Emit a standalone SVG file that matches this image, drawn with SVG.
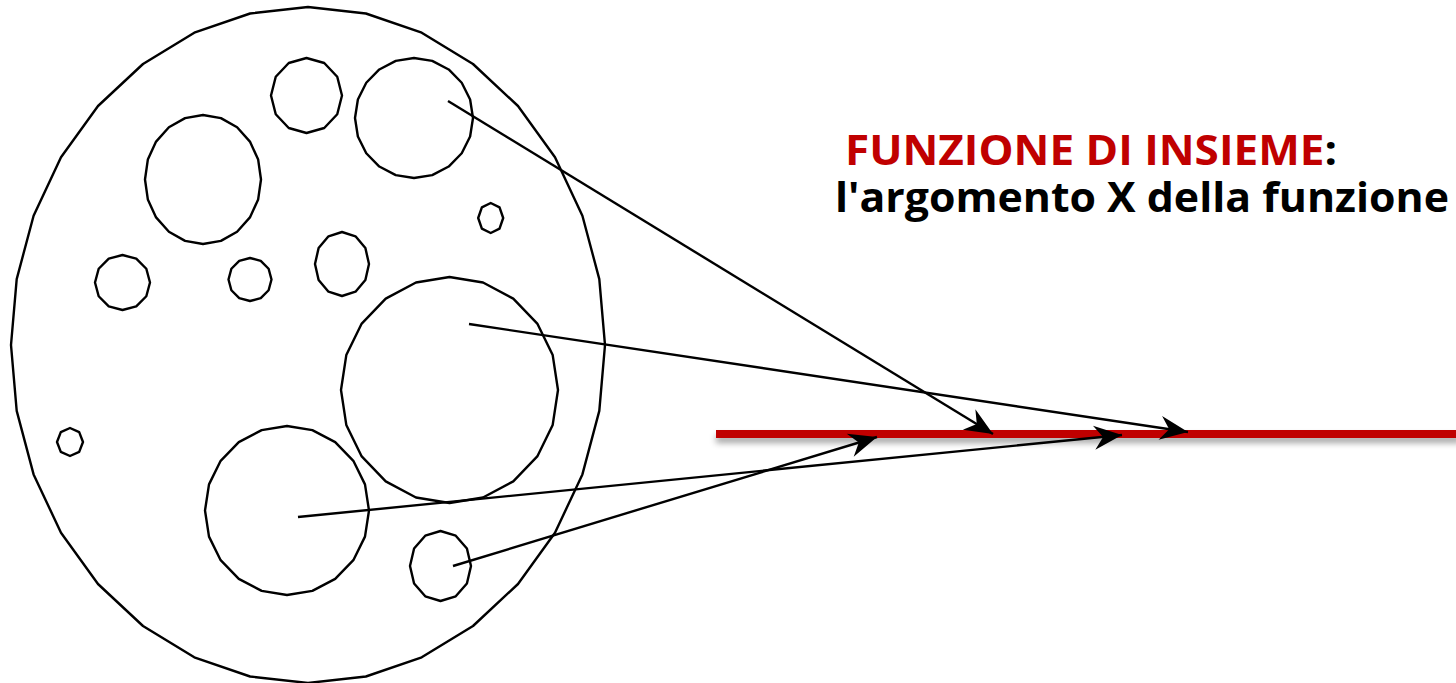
<svg xmlns="http://www.w3.org/2000/svg" xmlns:xlink="http://www.w3.org/1999/xlink" width="1456" height="683" viewBox="0 0 1456 683">
<style>
.outline{fill:none;stroke:#000;stroke-width:2.4;stroke-linejoin:round}
.conn{fill:none;stroke:#000;stroke-width:2.4}
.title{font-family:"Open Sans",Lato,"Liberation Sans",sans-serif;font-weight:bold;font-size:42px}
</style>
<defs>
<polygon id="p20" class="outline" vector-effect="non-scaling-stroke" points="0,-1 0.309,-0.9511 0.5878,-0.809 0.809,-0.5878 0.9511,-0.309 1,0 0.9511,0.309 0.809,0.5878 0.5878,0.809 0.309,0.9511 0,1 -0.309,0.9511 -0.5878,0.809 -0.809,0.5878 -0.9511,0.309 -1,0 -0.9511,-0.309 -0.809,-0.5878 -0.5878,-0.809 -0.309,-0.9511"/>
<polygon id="p12" class="outline" vector-effect="non-scaling-stroke" points="0,-1 0.5,-0.866 0.866,-0.5 1,0 0.866,0.5 0.5,0.866 0,1 -0.5,0.866 -0.866,0.5 -1,0 -0.866,-0.5 -0.5,-0.866"/>
<polygon id="p8" class="outline" vector-effect="non-scaling-stroke" points="0,-1 0.7071,-0.7071 1,0 0.7071,0.7071 0,1 -0.7071,0.7071 -1,0 -0.7071,-0.7071"/>
<marker id="head" markerUnits="userSpaceOnUse" markerWidth="40" markerHeight="40" refX="0" refY="0" orient="auto" overflow="visible">
<path d="M0,0 L-28,-12 L-19,0 L-28,12 Z" fill="#000"/>
</marker>
<filter id="shadow" x="-5%" y="-100%" width="110%" height="400%">
<feDropShadow dx="0" dy="5" stdDeviation="3" flood-color="#000" flood-opacity="0.35"/>
</filter>
</defs>
<rect width="1456" height="683" fill="#fff"/>
<g id="set">
<polygon class="outline" points="308,7 365.9,13.5 421.7,32.7 473,64 518,106 555,157.2 582.4,215.7 599.3,279.1 605,345 599.3,410.9 582.4,474.4 555,532.8 518,584 473,626 421.7,657.3 365.9,676.5 308,683 250.1,676.5 194.3,657.3 143,626 98,584 61,532.8 33.6,474.4 16.7,410.9 11,345 16.7,279.1 33.6,215.7 61,157.2 98,106 143,64 194.3,32.7 250.1,13.5"/>
</g>
<g id="n1"><use xlink:href="#p12" transform="translate(306.5,95.5) scale(35.5,37.5)"/></g>
<g id="n2"><use xlink:href="#p20" transform="translate(414,118) scale(59,60)"/></g>
<g id="n3"><use xlink:href="#p20" transform="translate(203,179.5) scale(58,64.5)"/></g>
<g id="n4"><use xlink:href="#p8" transform="translate(490.7,218) scale(12.5,15)"/></g>
<g id="n5"><use xlink:href="#p12" transform="translate(122.5,282.5) scale(27.5,27.5)"/></g>
<g id="n6"><use xlink:href="#p12" transform="translate(250,279.5) scale(21.5,21.5)"/></g>
<g id="n7"><use xlink:href="#p12" transform="translate(342,264) scale(27,32)"/></g>
<g id="n8"><use xlink:href="#p20" transform="translate(449.5,390) scale(108.5,113)"/></g>
<g id="n9"><use xlink:href="#p20" transform="translate(287,510.5) scale(82,84.5)"/></g>
<g id="n10"><use xlink:href="#p12" transform="translate(440.5,566) scale(30.5,35)"/></g>
<g id="n11"><use xlink:href="#p8" transform="translate(70,442) scale(13,14)"/></g>
<g id="axis">
<rect x="716" y="430" width="745" height="8" fill="#C00000" filter="url(#shadow)"/>
</g>
<g id="connectors">
<line class="conn" x1="448" y1="101" x2="993" y2="434" marker-end="url(#head)"/>
<line class="conn" x1="469" y1="324" x2="1188" y2="432" marker-end="url(#head)"/>
<line class="conn" x1="298" y1="517" x2="1122" y2="435" marker-end="url(#head)"/>
<line class="conn" x1="453" y1="566" x2="877" y2="437" marker-end="url(#head)"/>
</g>
<g id="label">
<text class="title" x="845" y="165" textLength="492" lengthAdjust="spacingAndGlyphs"><tspan fill="#C00000">FUNZIONE DI INSIEME</tspan><tspan fill="#000">:</tspan></text>
<text class="title" x="835" y="212" fill="#000" textLength="614" lengthAdjust="spacingAndGlyphs">l'argomento X della funzione</text>
</g>
</svg>
